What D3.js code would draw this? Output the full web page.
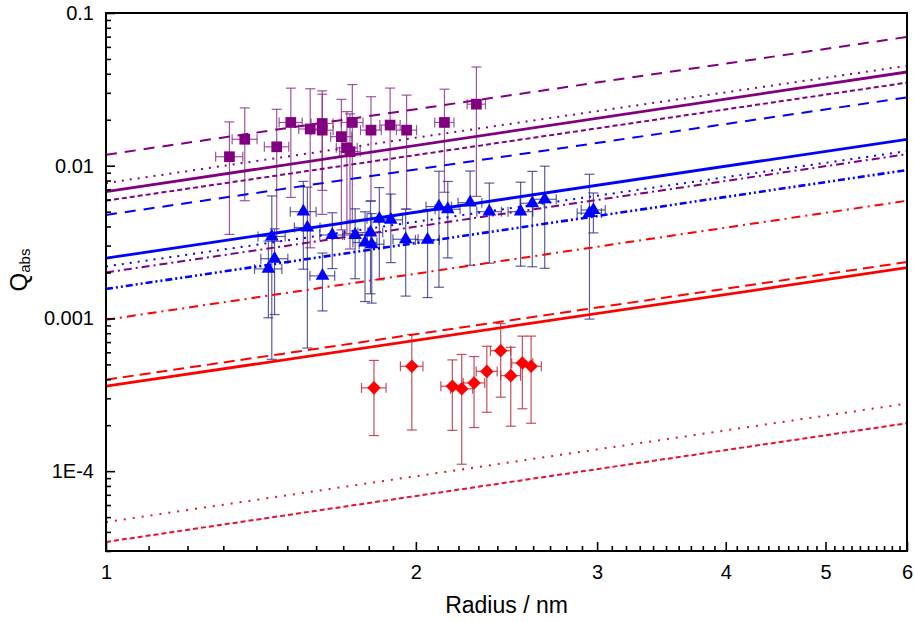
<!DOCTYPE html>
<html>
<head>
<meta charset="utf-8">
<script src="https://cdn.jsdelivr.net/npm/d3@7"></script>
<style>
body { margin: 0; background: #fff; }
text { font-family: "Liberation Sans", Arial, sans-serif; fill: #000; }
</style>
</head>
<body>
<div id="chart"></div>
<script>
// ---- data ----
// model lines: Q at r = 1 nm and r = 6 nm (straight on log-log)
const lineKeys = ["purpleLong", "purpleDot", "purpleSolid", "purpleShort", "blueLong", "blueSolid",
    "blueDot", "purpleDashDot", "blueDashDot", "redDashDot", "redLong", "redSolid", "redDot", "redShort"];
const lineQ1 = [0.0118, 0.0077, 0.00676, 0.0059, 0.00476, 0.00248, 0.00219, 0.0020, 0.00156, 0.00098, 0.000397, 0.00036, 4.64e-5, 3.44e-5];
const lineQ6 = [0.0697, 0.0451, 0.0411, 0.0350, 0.0280, 0.0149, 0.01247, 0.0119, 0.00937, 0.0059, 0.00234, 0.00215, 2.77e-4, 2.06e-4];

// purple squares
const purpleR = [1.318, 1.364, 1.465, 1.512, 1.579, 1.622, 1.622, 1.693, 1.714, 1.726, 1.735, 1.809, 1.888, 1.959, 2.132, 2.290];
const purpleQ = [0.01145, 0.0149, 0.0133, 0.0192, 0.0174, 0.0189, 0.0171, 0.0155, 0.0131, 0.01235, 0.0192, 0.0171, 0.01845, 0.0171, 0.0192, 0.0253];
const purpleDQ = [0.0079, 0.009, 0.0101, 0.013, 0.0145, 0.012, 0.0123, 0.0117, 0.0095, 0.0095, 0.0148, 0.0112, 0.0138, 0.0119, 0.0125, 0.019];
const purpleDR = [0.04, 0.038, 0.04, 0.039, 0.04, 0.04, 0.04, 0.04, 0.04, 0.04, 0.042, 0.042, 0.043, 0.044, 0.046, 0.047];

// blue triangles
const blueR = [1.449, 1.458, 1.438, 1.555, 1.569, 1.623, 1.659, 1.746, 1.785, 1.807, 1.812, 1.843, 1.891, 1.955, 2.053, 2.106, 2.148, 2.258, 2.357, 2.528, 2.595, 2.668, 2.949, 2.975];
const blueQ = [0.00344, 0.00246, 0.00211, 0.0050, 0.00394, 0.0019, 0.00352, 0.00352, 0.00314, 0.00365, 0.00306, 0.00449, 0.00442, 0.0033, 0.00327, 0.0054, 0.00519, 0.00573, 0.0050, 0.0050, 0.00568, 0.00603, 0.00489, 0.00513];
const blueDQ = [0.0029, 0.0014, 0.0011, 0.0029, 0.0033, 0.00078, 0.0014, 0.0017, 0.00185, 0.0022, 0.0018, 0.0027, 0.0021, 0.0019, 0.0019, 0.0038, 0.0027, 0.0035, 0.0027, 0.0028, 0.0035, 0.0039, 0.0039, 0.0015];
const blueDR = [0.044, 0.044, 0.044, 0.045, 0.045, 0.045, 0.046, 0.048, 0.048, 0.05, 0.05, 0.05, 0.05, 0.055, 0.055, 0.06, 0.06, 0.06, 0.065, 0.07, 0.07, 0.07, 0.08, 0.08];

// red diamonds
const redR = [1.821, 1.982, 2.17, 2.216, 2.278, 2.344, 2.418, 2.473, 2.538, 2.588];
const redQ = [0.000351, 0.000486, 0.00036, 0.000346, 0.000378, 0.00045, 0.000615, 0.000422, 0.000511, 0.000486];
const redDQ = [0.00018, 0.0003, 0.000175, 0.000235, 0.000185, 0.000207, 0.00031, 0.000225, 0.000255, 0.00028];
const redDR = [0.05, 0.05, 0.055, 0.055, 0.055, 0.055, 0.055, 0.055, 0.06, 0.06];

// axis ticks
const yMajor = [1e-4, 1e-3, 1e-2, 1e-1];
const yMajorLabels = ["1E-4", "0.001", "0.01", "0.1"];
const xMajor = [1, 2, 3, 4, 5, 6];

// ---- styles ----
const PURPLE = "#800080", BLUE = "#0000ff", RED = "#ff0000";
const lineStyle = {
    purpleLong:    { c: PURPLE, w: 2,   dash: "11,8" },
    purpleDot:     { c: PURPLE, w: 2,   dash: "2,6" },
    purpleSolid:   { c: PURPLE, w: 2.8, dash: null },
    purpleShort:   { c: PURPLE, w: 2,   dash: "5,3" },
    blueLong:      { c: BLUE,   w: 2,   dash: "11,8" },
    blueSolid:     { c: BLUE,   w: 2.8, dash: null },
    blueDot:       { c: BLUE,   w: 2,   dash: "2,6" },
    purpleDashDot: { c: PURPLE, w: 2,   dash: "8,4,2,4" },
    blueDashDot:   { c: BLUE,   w: 2.6, dash: "7,3,2,3,2,3" },
    redDashDot:    { c: RED,    w: 2,   dash: "9,5,2,5" },
    redLong:       { c: RED,    w: 2,   dash: "11,6" },
    redSolid:      { c: RED,    w: 2.8, dash: null },
    redDot:        { c: "#e8102a", w: 2, dash: "2,7" },
    redShort:      { c: "#e8102a", w: 2, dash: "5,3" }
};

const margin = { top: 13, right: 7, bottom: 71, left: 106 };
const width = 914 - margin.left - margin.right;
const height = 622 - margin.top - margin.bottom;

const svg = d3.select("#chart").append("svg")
    .attr("width", 914)
    .attr("height", 622);

const g = svg.append("g")
    .attr("transform", "translate(" + margin.left + "," + margin.top + ")");

const x = d3.scaleLog().domain([1, 6]).range([0, width]);
const y = d3.scaleLog().domain([3e-5, 0.1]).range([height, 0]);

g.append("clipPath").attr("id", "plot-clip")
    .append("rect").attr("width", width).attr("height", height);

const plot = g.append("g").attr("clip-path", "url(#plot-clip)");

// error bars
function drawErrors(rs, qs, dqs, drs, color, opacity) {
    const eg = plot.append("g")
        .attr("stroke", color)
        .attr("stroke-width", 1.2)
        .attr("stroke-opacity", opacity)
        .attr("fill", "none");
    rs.forEach(function(r, i) {
        const cx = x(r), cy = y(qs[i]);
        const yTop = y(qs[i] + dqs[i]), yBot = y(Math.max(qs[i] - dqs[i], 1e-6));
        const xl = x(r - drs[i]), xr = x(r + drs[i]);
        eg.append("line").attr("x1", cx).attr("x2", cx).attr("y1", yTop).attr("y2", yBot);
        eg.append("line").attr("x1", cx - 5).attr("x2", cx + 5).attr("y1", yTop).attr("y2", yTop);
        eg.append("line").attr("x1", cx - 5).attr("x2", cx + 5).attr("y1", yBot).attr("y2", yBot);
        eg.append("line").attr("x1", xl).attr("x2", xr).attr("y1", cy).attr("y2", cy);
        eg.append("line").attr("x1", xl).attr("x2", xl).attr("y1", cy - 5).attr("y2", cy + 5);
        eg.append("line").attr("x1", xr).attr("x2", xr).attr("y1", cy - 5).attr("y2", cy + 5);
    });
}

drawErrors(purpleR, purpleQ, purpleDQ, purpleDR, "#862a86", 0.8);
drawErrors(blueR, blueQ, blueDQ, blueDR, "#262680", 0.75);
drawErrors(redR, redQ, redDQ, redDR, "#b8303e", 0.85);

// model lines
const line = d3.line().x(d => x(d[0])).y(d => y(d[1]));
lineKeys.forEach(function(k, i) {
    const s = lineStyle[k];
    plot.append("path")
        .attr("d", line([[1, lineQ1[i]], [6, lineQ6[i]]]))
        .attr("fill", "none")
        .attr("stroke", s.c)
        .attr("stroke-width", s.w)
        .attr("stroke-dasharray", s.dash);
});

// markers
function drawMarkers(rs, qs, type, size, color, rot) {
    plot.append("g").selectAll("path")
        .data(rs.map((r, i) => [r, qs[i]]))
        .enter().append("path")
        .attr("d", d3.symbol().type(type).size(size))
        .attr("transform", d => "translate(" + x(d[0]) + "," + y(d[1]) + ") rotate(" + rot + ")")
        .attr("fill", color);
}

drawMarkers(purpleR, purpleQ, d3.symbolSquare, 115, PURPLE, 0);
drawMarkers(blueR, blueQ, d3.symbolTriangle, 80, BLUE, 0);
drawMarkers(redR, redQ, d3.symbolSquare, 92, RED, 45);

// axes
const xMinor = d3.range(10, 61).map(d => d / 10).filter(d => d % 1 !== 0);
const yMinor = y.ticks().filter(d => yMajor.indexOf(d) < 0);

g.append("g")
    .attr("transform", "translate(0," + height + ")")
    .call(d3.axisBottom(x).tickValues(xMinor).tickSizeInner(-5).tickSizeOuter(0).tickFormat(""));
const xAxis = g.append("g")
    .attr("transform", "translate(0," + height + ")")
    .call(d3.axisBottom(x).tickValues(xMajor).tickSizeInner(-9).tickSizeOuter(0).tickPadding(14).tickFormat(d3.format("d")));

g.append("g")
    .call(d3.axisLeft(y).tickValues(yMinor).tickSizeInner(-5).tickSizeOuter(0).tickFormat(""));
const yAxis = g.append("g")
    .call(d3.axisLeft(y).tickValues(yMajor).tickSizeInner(-9).tickSizeOuter(0).tickPadding(12)
        .tickFormat((d, i) => yMajorLabels[i]));

g.selectAll(".tick line").attr("stroke", "#000").attr("stroke-width", 1.6);
g.selectAll(".domain").remove();
xAxis.selectAll("text").style("font-size", "20px").style("font-family", "'Liberation Sans', Arial, sans-serif");
yAxis.selectAll("text").style("font-size", "20px").style("font-family", "'Liberation Sans', Arial, sans-serif");

// frame
g.append("rect")
    .attr("width", width)
    .attr("height", height)
    .attr("fill", "none")
    .attr("stroke", "#000")
    .attr("stroke-width", 2);

// axis titles
svg.append("text")
    .attr("x", margin.left + width / 2)
    .attr("y", 613)
    .attr("text-anchor", "middle")
    .style("font-size", "23px")
    .text("Radius / nm");

const yTitle = svg.append("text")
    .attr("transform", "translate(27,270) rotate(-90)")
    .attr("text-anchor", "middle");
yTitle.append("tspan").style("font-size", "24px").text("Q");
yTitle.append("tspan").style("font-size", "15px").attr("dy", 3).text("abs");
</script>
</body>
</html>
